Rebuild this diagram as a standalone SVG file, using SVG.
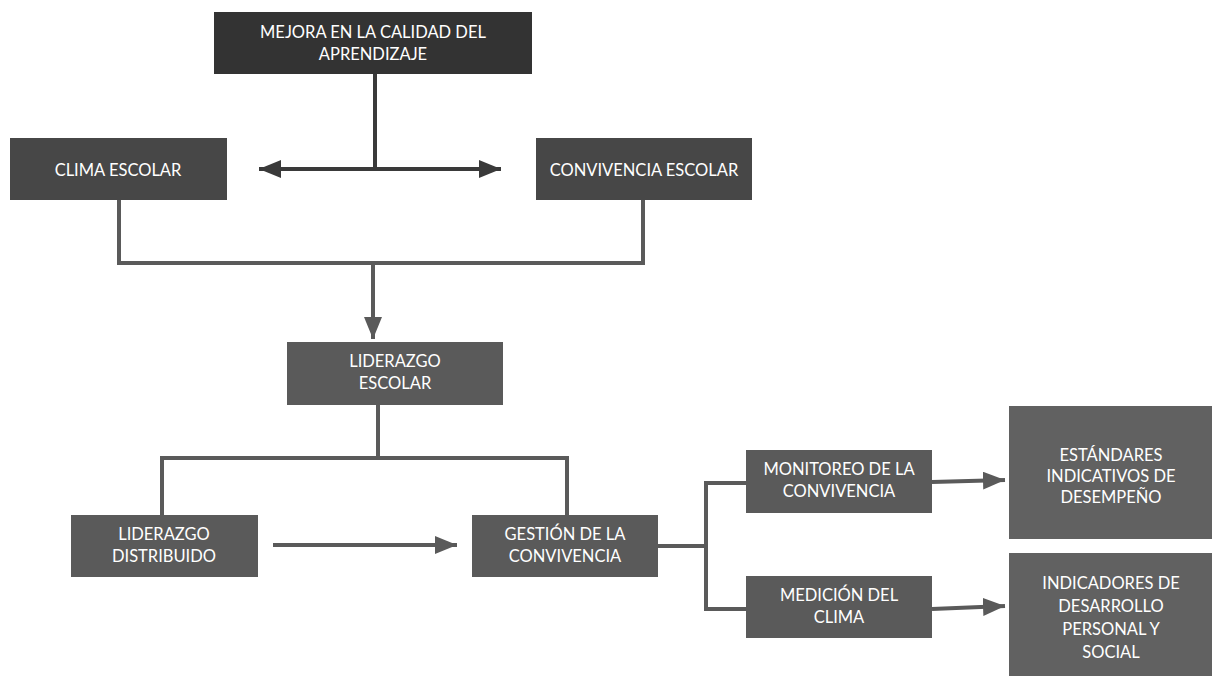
<svg xmlns="http://www.w3.org/2000/svg" width="1212" height="676" viewBox="0 0 1212 676">
<style>
text{font-family:Lato,"Open Sans","Liberation Sans",sans-serif;font-size:16.5px;fill:#ffffff;text-anchor:middle}
.dk{fill:#333333}
.md{fill:#474747}
.lt{fill:#5a5a5a}
.rt{fill:#616161}
.ln{fill:none;stroke:#5a5a5a;stroke-width:4}
.lnd{fill:none;stroke:#3a3a3a;stroke-width:4}
</style>
<defs>
<marker id="ah" markerUnits="userSpaceOnUse" markerWidth="24" markerHeight="20" refX="22" refY="9" orient="auto"><path d="M0,0 L22,9 L0,18 Z" fill="#5a5a5a"/></marker>
<marker id="ahd" markerUnits="userSpaceOnUse" markerWidth="24" markerHeight="20" refX="22" refY="9" orient="auto-start-reverse"><path d="M0,0 L22,9 L0,18 Z" fill="#3a3a3a"/></marker>
</defs>
<g id="connectors">
<line class="lnd" x1="375" y1="74" x2="375" y2="169"/>
<line class="lnd" x1="259" y1="169" x2="501" y2="169" marker-start="url(#ahd)" marker-end="url(#ahd)"/>
<polyline class="ln" points="119,200 119,263 643,263 643,200"/>
<line class="ln" x1="373" y1="263" x2="373" y2="339" marker-end="url(#ah)"/>
<polyline class="ln" points="162,515 162,458 567,458 567,515"/>
<line class="ln" x1="378" y1="405" x2="378" y2="458"/>
<line class="ln" x1="273" y1="545" x2="457" y2="545" marker-end="url(#ah)"/>
<line class="ln" x1="658" y1="546" x2="706" y2="546"/>
<polyline class="ln" points="746,483 706,483 706,609 746,609"/>
<line class="ln" x1="932" y1="482" x2="1005" y2="480" marker-end="url(#ah)"/>
<line class="ln" x1="932" y1="609" x2="1005" y2="606" marker-end="url(#ah)"/>
</g>
<g id="n-mejora"><rect class="dk" x="214" y="12" width="318" height="62"/><text x="373" y="38">MEJORA EN LA CALIDAD DEL</text><text x="373" y="60">APRENDIZAJE</text></g>
<g id="n-clima"><rect class="md" x="10" y="138" width="217" height="62"/><text x="118" y="176">CLIMA ESCOLAR</text></g>
<g id="n-convivencia"><rect class="md" x="536" y="138" width="216" height="62"/><text x="644" y="176">CONVIVENCIA ESCOLAR</text></g>
<g id="n-liderazgo-escolar"><rect class="lt" x="287" y="342" width="216" height="63"/><text x="395" y="367">LIDERAZGO</text><text x="395" y="389">ESCOLAR</text></g>
<g id="n-liderazgo-distribuido"><rect class="lt" x="71" y="515" width="187" height="62"/><text x="164" y="540">LIDERAZGO</text><text x="164" y="562">DISTRIBUIDO</text></g>
<g id="n-gestion"><rect class="lt" x="472" y="515" width="186" height="62"/><text x="565" y="540">GESTIÓN DE LA</text><text x="565" y="562">CONVIVENCIA</text></g>
<g id="n-monitoreo"><rect class="lt" x="746" y="450" width="186" height="63"/><text x="839" y="475">MONITOREO DE LA</text><text x="839" y="497">CONVIVENCIA</text></g>
<g id="n-medicion"><rect class="lt" x="746" y="576" width="186" height="62"/><text x="839" y="601">MEDICIÓN DEL</text><text x="839" y="623">CLIMA</text></g>
<g id="n-estandares"><rect class="rt" x="1009" y="406" width="203" height="133"/><text x="1111" y="461">ESTÁNDARES</text><text x="1111" y="482">INDICATIVOS DE</text><text x="1111" y="503">DESEMPEÑO</text></g>
<g id="n-indicadores"><rect class="rt" x="1009" y="553" width="203" height="123"/><text x="1111" y="589">INDICADORES DE</text><text x="1111" y="612">DESARROLLO</text><text x="1111" y="635">PERSONAL Y</text><text x="1111" y="658">SOCIAL</text></g>
</svg>
